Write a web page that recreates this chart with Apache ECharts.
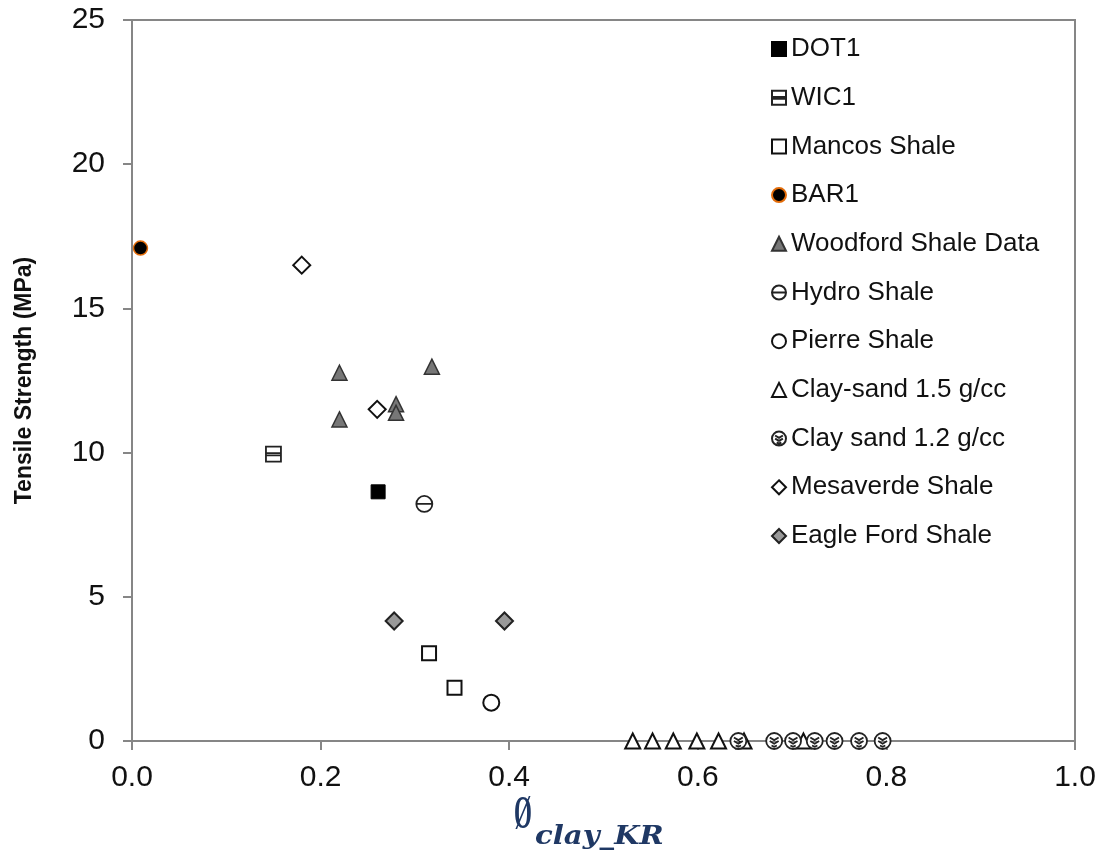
<!DOCTYPE html>
<html><head><meta charset="utf-8">
<script src="https://cdn.jsdelivr.net/npm/echarts@6/dist/echarts.min.js"></script>
<style>html,body{margin:0;padding:0;background:#fff}#c{width:1110px;height:861px}</style>
</head><body><div id="c"></div>
<script>
const xTicks = [0, 0.2, 0.4, 0.6, 0.8, 1.0];
const yTicks = [0, 5, 10, 15, 20, 25];
const seriesNames = ['DOT1','WIC1','Mancos Shale','BAR1','Woodford Shale Data','Hydro Shale','Pierre Shale','Clay-sand 1.5 g/cc','Clay sand 1.2 g/cc','Mesaverde Shale','Eagle Ford Shale'];
const dot1 = [[0.261, 8.64]];
const wic1 = [[0.150, 9.95]];
const mancos = [[0.315, 3.04], [0.342, 1.85]];
const bar1 = [[0.009, 17.09]];
const woodford = [[0.22, 12.77], [0.22, 11.15], [0.28, 11.68], [0.28, 11.38], [0.318, 12.98]];
const hydro = [[0.31, 8.22]];
const pierre = [[0.381, 1.33]];
const claySand15 = [[0.531, 0], [0.552, 0], [0.574, 0], [0.599, 0], [0.622, 0], [0.649, 0], [0.712, 0]];
const claySand12 = [[0.643, 0], [0.681, 0], [0.701, 0], [0.724, 0], [0.745, 0], [0.771, 0], [0.796, 0]];
const mesaverde = [[0.18, 16.5], [0.26, 11.5]];
const eagleFord = [[0.278, 4.16], [0.395, 4.16]];

const circ = 'M10,1 A9,9 0 1,1 9.99,1 Z';
const symWic = 'path://M1,1 H19 V19 H1 Z M1,9 H19 M1,11.5 H19';
const symHydro = 'path://' + circ + ' M1,10 H19';
const symHatch = 'path://' + circ + ' M5,6 L10,9 L15,6 M5,10 L10,13 L15,10 M7,15 L10,16.5 L13,15';

const base = (name, data, symbol, size, fill, border, bw) => ({
  name, type: 'scatter', data, symbol, symbolSize: size,
  itemStyle: {color: fill, borderColor: border, borderWidth: bw, opacity: 1},
  emphasis: {disabled: true}, z: 3
});

const chart = echarts.init(document.getElementById('c'));
chart.setOption({
  animation: false,
  backgroundColor: '#fff',
  grid: {left: 132, right: 35, top: 20, bottom: 120, show: true, borderColor: '#868686', borderWidth: 2, backgroundColor: 'transparent'},
  xAxis: {
    type: 'value', min: xTicks[0], max: xTicks[xTicks.length-1], interval: 0.2,
    axisLine: {show: true, onZero: false, lineStyle: {color: '#868686', width: 2}},
    axisTick: {show: true, length: 9, lineStyle: {color: '#868686', width: 2}},
    splitLine: {show: false},
    axisLabel: {color: '#111', fontSize: 30, fontFamily: 'Liberation Sans', margin: 22,
      formatter: v => v.toFixed(1)}
  },
  yAxis: {
    type: 'value', min: yTicks[0], max: yTicks[yTicks.length-1], interval: 5,
    name: 'Tensile Strength (MPa)', nameLocation: 'middle', nameGap: 96,
    nameTextStyle: {color: '#111', fontSize: 23, fontWeight: 'bold', fontFamily: 'Liberation Sans'},
    axisLine: {show: true, lineStyle: {color: '#868686', width: 2}},
    axisTick: {show: true, length: 9, lineStyle: {color: '#868686', width: 2}},
    splitLine: {show: false},
    axisLabel: {color: '#111', fontSize: 30, fontFamily: 'Liberation Sans', margin: 27}
  },
  legend: {
    orient: 'vertical', left: 766, top: 31, itemWidth: 14, itemHeight: 14, itemGap: 22.7,
    textStyle: {color: '#111', fontSize: 26, fontFamily: 'Liberation Sans', lineHeight: 26},
    data: seriesNames, selectedMode: false
  },
  graphic: [
    {type: 'text', left: 514, top: 793, scaleX: 0.5, style: {text: 'Ø', font: 'bold 46px "Liberation Serif"', fill: '#1F3864'}},
    {type: 'text', left: 535, top: 824, scaleX: 1.12, style: {text: 'clay_KR', font: 'italic bold 26px "DejaVu Serif"', fill: '#1F3864'}}
  ],
  series: [
    base(seriesNames[0], dot1, 'rect', 14, '#000', '#000', 1),
    base(seriesNames[1], wic1, symWic, 15, '#fff', '#222', 1.8),
    base(seriesNames[2], mancos, 'rect', 14, '#fff', '#111', 2),
    base(seriesNames[3], bar1, 'circle', 14, '#000', '#E36C09', 1.5),
    base(seriesNames[4], woodford, 'triangle', 15, '#777', '#333', 1.5),
    base(seriesNames[5], hydro, symHydro, 16, '#fff', '#222', 1.8),
    base(seriesNames[6], pierre, 'circle', 16, '#fff', '#111', 2),
    base(seriesNames[7], claySand15, 'triangle', 15, '#fff', '#111', 2),
    base(seriesNames[8], claySand12, symHatch, 16, '#fff', '#222', 1.8),
    base(seriesNames[9], mesaverde, 'diamond', 17, '#fff', '#111', 2),
    base(seriesNames[10], eagleFord, 'diamond', 17, '#999', '#222', 2)
  ]
});
</script></body></html>
